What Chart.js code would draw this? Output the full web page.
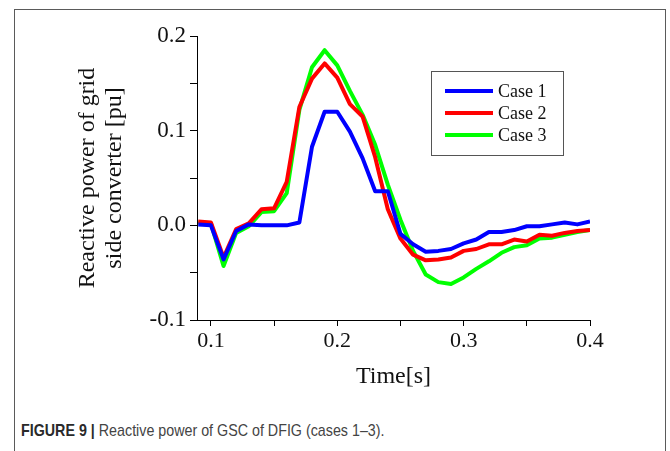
<!DOCTYPE html>
<html>
<head>
<meta charset="utf-8">
<script src="https://cdn.jsdelivr.net/npm/chart.js@4"></script>
<style>
  html, body { margin: 0; padding: 0; background: #fff; }
  #page { position: relative; width: 670px; height: 451px; overflow: hidden; }
  #frame { position: absolute; left: 14px; top: 9px; width: 652px; height: 460px; border: 1px solid #5a5a5a; box-sizing: border-box; }
  #plot { position: absolute; left: 0; top: 0; }
  #caption { position: absolute; left: 21px; top: 421px; font-family: "Liberation Sans", Arial, sans-serif; font-size: 17px; color: #444; white-space: nowrap; transform: scaleX(0.84); transform-origin: 0 0; }
  #caption b { color: #2a2a2a; }
</style>
</head>
<body>
<div id="page">
  <div id="frame"></div>
  <canvas id="plot" width="670" height="400"></canvas>
  <div id="caption"><b>FIGURE 9 |</b> Reactive power of GSC of DFIG (cases 1–3).</div>
</div>
<script>
// time samples [s]
const time = [0.09, 0.10, 0.11, 0.12, 0.13, 0.14, 0.15, 0.16, 0.17, 0.18, 0.19, 0.20,
              0.21, 0.22, 0.23, 0.24, 0.25, 0.26, 0.27, 0.28, 0.29, 0.30, 0.31, 0.32,
              0.33, 0.34, 0.35, 0.36, 0.37, 0.38, 0.39, 0.40];

// reactive power [pu]
const case1 = [0.001, 0.000, -0.036, -0.006, 0.001, 0.000, 0.000, 0.000, 0.003, 0.083, 0.120, 0.120,
               0.099, 0.071, 0.036, 0.036, -0.009, -0.020, -0.028, -0.027, -0.025, -0.019, -0.015, -0.007,
               -0.007, -0.005, -0.001, -0.001, 0.001, 0.003, 0.001, 0.004];
const case2 = [0.004, 0.003, -0.034, -0.004, 0.002, 0.017, 0.018, 0.046, 0.125, 0.155, 0.171, 0.156,
               0.128, 0.115, 0.072, 0.017, -0.014, -0.031, -0.037, -0.036, -0.034, -0.027, -0.025, -0.020,
               -0.020, -0.015, -0.017, -0.010, -0.011, -0.008, -0.006, -0.005];
const case3 = [0.003, 0.002, -0.043, -0.008, -0.001, 0.014, 0.015, 0.034, 0.122, 0.167, 0.185, 0.169,
               0.142, 0.117, 0.085, 0.043, 0.006, -0.027, -0.052, -0.060, -0.062, -0.055, -0.046, -0.038,
               -0.029, -0.023, -0.021, -0.014, -0.013, -0.010, -0.007, -0.005];

const seriesNames = ['Case 1', 'Case 2', 'Case 3'];
const seriesColors = ['#0000ff', '#ff0000', '#00ff00'];

const xTicks = [0.1, 0.15, 0.2, 0.25, 0.3, 0.35, 0.4];
const xTickLabels = ['0.1', '', '0.2', '', '0.3', '', '0.4'];
const yTicks = [-0.1, -0.05, 0.0, 0.05, 0.1, 0.15, 0.2];
const yTickLabels = ['-0.1', '', '0.0', '', '0.1', '', '0.2'];

const serif = "'Liberation Serif', 'Times New Roman', serif";

const toPoints = (ys) => time.map((t, i) => ({ x: t, y: ys[i] }));

// legend box drawn inside the plot, upper right
const boxLegend = {
  id: 'boxLegend',
  afterDatasetsDraw(chart) {
    const ctx = chart.ctx;
    const x0 = 431, y0 = 71, w = 132, h = 84;
    ctx.save();
    ctx.fillStyle = '#fff';
    ctx.fillRect(x0, y0, w, h);
    ctx.strokeStyle = '#555';
    ctx.lineWidth = 1;
    ctx.strokeRect(x0 + 0.5, y0 + 0.5, w, h);
    ctx.font = '18px ' + serif;
    ctx.textBaseline = 'middle';
    chart.data.datasets.forEach((ds, i) => {
      const y = y0 + 20 + i * 22;
      ctx.strokeStyle = ds.borderColor;
      ctx.lineWidth = 4;
      ctx.beginPath();
      ctx.moveTo(x0 + 14, y);
      ctx.lineTo(x0 + 62, y);
      ctx.stroke();
      ctx.fillStyle = '#111';
      ctx.fillText(ds.label, x0 + 67, y + 1);
    });
    ctx.restore();
  }
};

new Chart(document.getElementById('plot'), {
  type: 'line',
  data: {
    datasets: [case1, case2, case3].map((ys, i) => ({
      label: seriesNames[i],
      data: toPoints(ys),
      borderColor: seriesColors[i],
      borderWidth: 4,
      borderJoinStyle: 'round',
      pointRadius: 0,
      tension: 0,
      fill: false,
    })),
  },
  options: {
    responsive: false,
    animation: false,
    devicePixelRatio: 1,
    layout: { padding: { left: 0, top: 36, right: 80, bottom: 0 } },
    plugins: {
      legend: { display: false },
      tooltip: { enabled: false },
    },
    scales: {
      x: {
        type: 'linear',
        min: 0.089,
        max: 0.4,
        afterBuildTicks: (scale) => { scale.ticks = xTicks.map(v => ({ value: v })); },
        afterFit: (scale) => { scale.height = 80; },
        border: { display: true, color: '#000', width: 1 },
        grid: { drawOnChartArea: false, drawTicks: true, tickLength: 6, color: '#000' },
        ticks: {
          autoSkip: false,
          maxRotation: 0,
          padding: 2,
          color: '#111',
          font: { family: serif, size: 22 },
          callback: (v, i) => xTickLabels[i],
        },
        title: {
          display: true,
          text: 'Time[s]',
          color: '#111',
          font: { family: serif, size: 24, lineHeight: 1.2 },
          padding: { top: 0, bottom: 9 },
        },
      },
      y: {
        min: -0.1,
        max: 0.2,
        afterBuildTicks: (scale) => { scale.ticks = yTicks.map(v => ({ value: v })); },
        afterFit: (scale) => { scale.width = 197; },
        border: { display: true, color: '#000', width: 1 },
        grid: { drawOnChartArea: false, drawTicks: true, tickLength: 7, color: '#000' },
        ticks: {
          autoSkip: false,
          padding: 4,
          color: '#111',
          font: { family: serif, size: 23 },
          callback: (v, i) => yTickLabels[i],
        },
        title: {
          display: true,
          text: ['Reactive power of grid', 'side converter [pu]'],
          color: '#111',
          font: { family: serif, size: 24, lineHeight: 1.12 },
          padding: { top: 74, bottom: 0 },
        },
      },
    },
  },
  plugins: [boxLegend],
});
</script>
</body>
</html>
